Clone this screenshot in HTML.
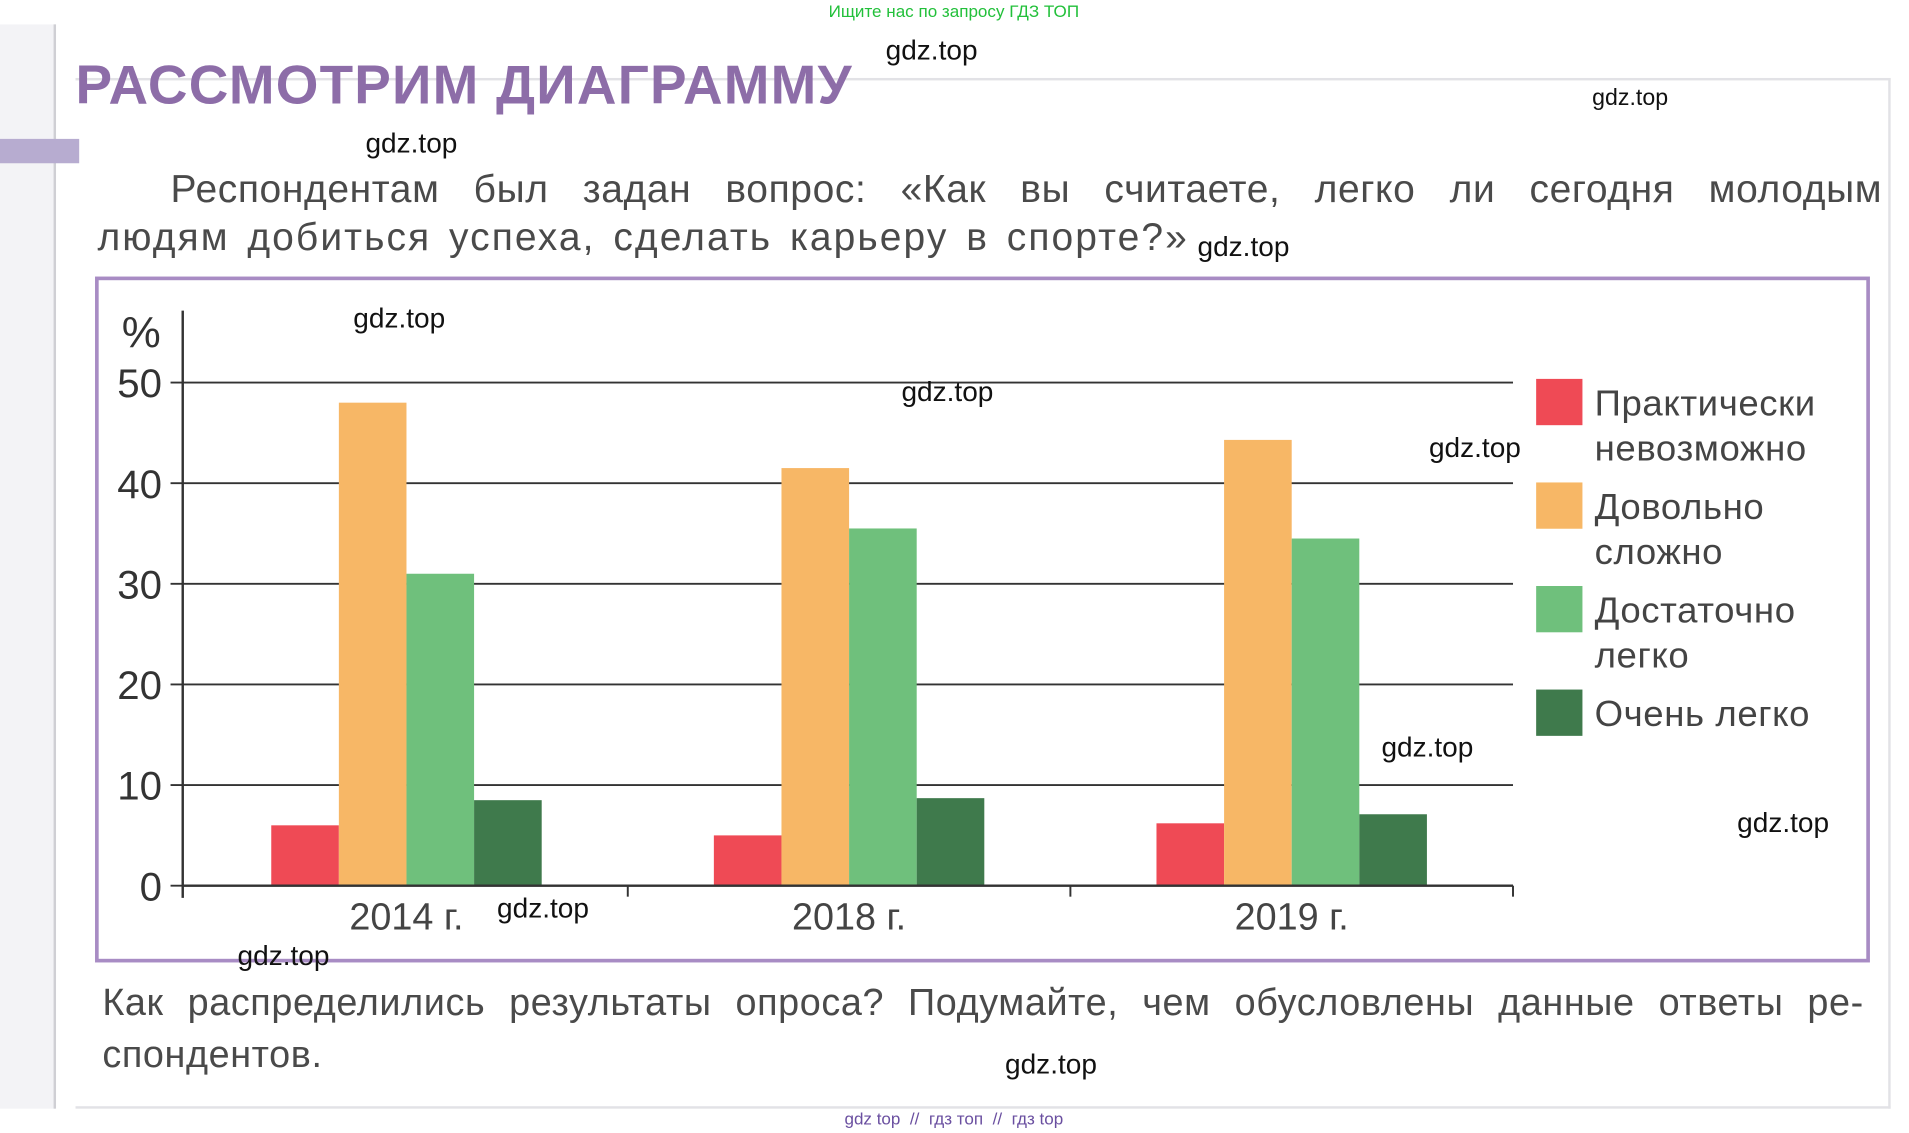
<!DOCTYPE html>
<html><head><meta charset="utf-8">
<style>
html,body{margin:0;padding:0;background:#fff;overflow:hidden}
#root{position:absolute;left:0;top:0;width:1567px;height:930px;transform-origin:0 0;transform:scale(1.2182,1.2183);font-family:"Liberation Sans","DejaVu Sans",sans-serif}
.t{position:absolute;white-space:nowrap}
.wm{position:absolute;font-size:23px;color:#111;font-family:"Liberation Sans",sans-serif}
</style></head><body>
<div id="root">
<div style="position:absolute;left:0;top:20px;width:45px;height:890px;background:#f3f3f6"></div>
<div style="position:absolute;left:44px;top:20px;width:2px;height:890px;background:#cfcfd4"></div>
<div style="position:absolute;left:0;top:114px;width:65px;height:20px;background:#b7acd0"></div>
<div style="position:absolute;left:62px;top:64px;width:1488px;height:842px;border:2px solid #e2e2e6;border-left:none"></div>
<div class="t" style="left:0;width:1566px;text-align:center;top:1px;font-size:14px;color:#22c03a">Ищите нас по запросу ГДЗ ТОП</div>
<div class="t" style="left:62px;top:44px;font-size:45px;font-weight:bold;color:#8d6da8;letter-spacing:1px">РАССМОТРИМ ДИАГРАММУ</div>
<div class="t" style="left:80px;top:134px;width:1465px;font-size:32px;color:#4a4a4a;text-align:justify;text-align-last:justify;white-space:normal;line-height:42px;text-indent:60px;letter-spacing:0.5px">Респондентам был задан вопрос: «Как вы считаете, легко ли сегодня молодым</div>
<div class="t" style="left:80px;top:176px;font-size:32px;color:#4a4a4a;letter-spacing:1.7px;word-spacing:4px">людям добиться успеха, сделать карьеру в спорте?»</div>
<div style="position:absolute;left:78px;top:227px;width:1451px;height:557px;border:3px solid #a88cc4"></div>
<svg id="chart" style="position:absolute;left:0;top:0" width="1560" height="926"></svg>
<div class="t" style="left:84px;top:805px;width:1446px;font-size:31px;color:#4a4a4a;text-align:justify;text-align-last:justify;white-space:normal;letter-spacing:0.5px">Как распределились результаты опроса? Подумайте, чем обусловлены данные ответы ре-</div>
<div class="t" style="left:84px;top:848px;font-size:31px;color:#4a4a4a;letter-spacing:0.5px">спондентов.</div>
<div class="t" style="left:0;width:1566px;text-align:center;top:910px;font-size:14px;color:#6a4fa0">gdz top &nbsp;// &nbsp;гдз топ &nbsp;// &nbsp;гдз top</div>
<div class="wm" style="left:727px;top:28px">gdz.top</div>
<div class="wm" style="left:1307px;top:70px;font-size:19px">gdz.top</div>
<div class="wm" style="left:300px;top:104px">gdz.top</div>
<div class="wm" style="left:983px;top:189px">gdz.top</div>
<div class="wm" style="left:290px;top:248px">gdz.top</div>
<div class="wm" style="left:740px;top:308px">gdz.top</div>
<div class="wm" style="left:1173px;top:354px">gdz.top</div>
<div class="wm" style="left:1134px;top:600px">gdz.top</div>
<div class="wm" style="left:1426px;top:662px">gdz.top</div>
<div class="wm" style="left:408px;top:732px">gdz.top</div>
<div class="wm" style="left:195px;top:771px">gdz.top</div>
<div class="wm" style="left:825px;top:860px">gdz.top</div>
</div>
<script>
const categories=["2014 г.","2018 г.","2019 г."];
const seriesNames=["Практически невозможно","Довольно сложно","Достаточно легко","Очень легко"];
const impossible=[6,5,6.2];
const hard=[48,41.5,44.3];
const easyEnough=[31,35.5,34.5];
const veryEasy=[8.5,8.7,7.1];
const yTicks=[0,10,20,30,40,50];
const colors=["#ef4a55","#f7b766","#6fc07c","#3f7a4c"];
const series=[impossible,hard,easyEnough,veryEasy];
const svg=document.getElementById('chart');
const NS='http://www.w3.org/2000/svg';
const x0=152,x1=1242,y0=727,ppu=8.26;
const yS=v=>y0-v*ppu;
const groupW=(x1-x0)/categories.length;
const barW=55.5;
function mk(t,a){const e=document.createElementNS(NS,t);for(const k in a)e.setAttribute(k,a[k]);svg.appendChild(e);return e;}
yTicks.forEach(v=>{
  const l=mk('line',{x1:140,x2:x1,y1:yS(v),y2:yS(v),stroke:'#333','stroke-width':1.6});
  
  
  const t=mk('text',{x:133,y:yS(v)+12,'text-anchor':'end','font-size':33,fill:'#333','font-family':'Liberation Sans, sans-serif'});
  t.textContent=v;
  
  
});
const pct=mk('text',{x:100,y:285,'font-size':36,fill:'#333','font-family':'Liberation Sans, sans-serif'});
pct.textContent='%';


const ya=mk('line',{x1:150,x2:150,y1:255,y2:737,stroke:'#333','stroke-width':2});


categories.forEach((c,i)=>{
  const cx=x0+groupW*(i+0.5);
  series.forEach((s,j)=>{
    const bx=cx-2*barW+j*barW;
    const r=mk('rect',{x:bx,y:yS(s[i]),width:barW,height:s[i]*ppu,fill:colors[j]});
    
    
  });
  const tk=mk('line',{x1:x0+groupW*(i+1),x2:x0+groupW*(i+1),y1:y0,y2:y0+9,stroke:'#333','stroke-width':1.6});
  
  
  const t=mk('text',{x:cx,y:763,'text-anchor':'middle','font-size':31,fill:'#444','font-family':'Liberation Sans, sans-serif'});
  t.textContent=c;
  
  
});
const xa=mk('line',{x1:150,x2:x1,y1:y0,y2:y0,stroke:'#333','stroke-width':2});


const legendLines=[["Практически","невозможно"],["Довольно","сложно"],["Достаточно","легко"],["Очень легко"]];
legendLines.forEach((ls,j)=>{
  const y=311+j*85;
  const r=mk('rect',{x:1261,y:y,width:38,height:38,fill:colors[j]});
  
  
  ls.forEach((s,k)=>{
    const t=mk('text',{x:1309,y:y+30+k*37,'font-size':30,fill:'#444','font-family':'Liberation Sans, sans-serif','letter-spacing':0.5});
    t.textContent=s;
    
    
  });
});
</script>
</body></html>
